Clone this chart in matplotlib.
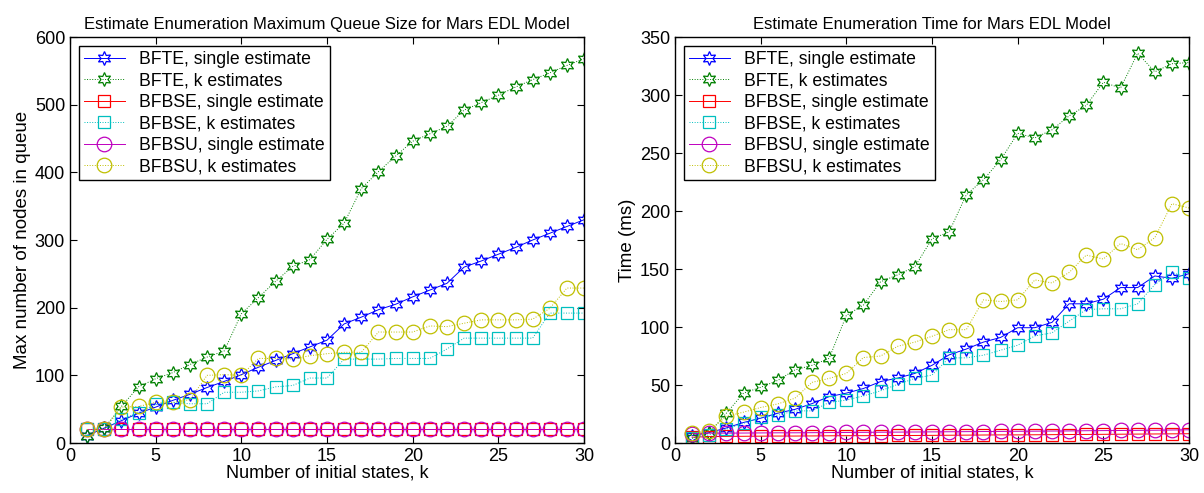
import numpy as np
import matplotlib
matplotlib.use("Agg")
import matplotlib.pyplot as plt

plt.rcParams["font.family"] = ["Liberation Sans", "DejaVu Sans"]

# Number of initial states
k = list(range(1, 31))

# Maximum queue size (nodes)
queue_bfte_single = [11, 22, 33, 44, 53, 63, 72, 82, 91, 101, 112, 122, 132, 142, 152,
                     176, 186, 197, 205, 216, 226, 236, 260, 269, 279, 289, 300, 310, 320, 330]
queue_bfte_k = [11, 22, 54, 83, 95, 104, 116, 127, 136, 191, 215, 239, 261, 271, 301,
                325, 376, 401, 424, 446, 457, 468, 492, 503, 514, 526, 537, 547, 558, 568]
queue_bfbse_single = [20] * 30
queue_bfbse_k = [20, 20, 35, 45, 57, 60, 58, 58, 75, 75, 77, 83, 85, 96, 96,
                 124, 124, 124, 125, 125, 125, 139, 155, 155, 155, 155, 155, 192, 192, 192]
queue_bfbsu_single = [20] * 30
queue_bfbsu_k = [20, 20, 53, 54, 60, 60, 64, 100, 101, 100, 125, 125, 124, 129, 132,
                 134, 134, 164, 164, 164, 173, 172, 177, 182, 182, 182, 183, 199, 229, 229]

# Enumeration time (ms)
time_bfte_single = [6.3, 9, 13, 17.7, 21.4, 25.7, 29, 34, 40, 43, 47, 53, 56, 60, 67,
                    76, 81, 87, 91, 99.4, 99.4, 104, 120, 120, 124, 134, 134, 144, 142, 146]
time_bfte_k = [4, 8.6, 25.7, 43, 48, 54, 63, 67, 73, 110, 119, 139, 145, 152, 176,
               182, 214, 227, 244, 267, 263, 270, 282, 291, 311, 306, 336, 320, 327, 328]
time_bfbse_single = [5.0, 5.5, 5.7, 5.8, 5.9, 6.0, 6.0, 6.1, 6.2, 6.3, 6.3, 6.4, 6.5, 6.5, 6.6,
                     6.7, 6.8, 6.9, 7.0, 7.0, 7.1, 7.2, 7.3, 7.4, 7.5, 7.6, 7.7, 7.8, 7.9, 8.0]
time_bfbse_k = [4.3, 7, 12, 17, 22, 24, 27.7, 27.7, 35, 37, 40.6, 45, 50.6, 55.7, 58.6,
                73.4, 73.4, 75.7, 80, 84.3, 92.3, 95, 105, 115, 115.7, 115.7, 120, 136.6, 147, 142.3]
time_bfbsu_single = [8.0, 8.5, 8.5, 8.6, 8.7, 8.8, 8.8, 8.9, 9.0, 9.1, 9.2, 9.3, 9.4, 9.5, 9.6,
                     9.7, 9.8, 9.9, 10.0, 10.1, 10.2, 10.3, 10.4, 10.6, 10.7, 10.8, 10.9, 11.0, 11.2, 11.4]
time_bfbsu_k = [8.6, 10.6, 23, 26.6, 30.6, 33.7, 38.6, 52.3, 55.7, 60, 73.7, 75, 83.4, 87, 92,
                97.7, 97.7, 123.4, 122, 123.4, 140.6, 138, 147, 162, 158.6, 172, 166.6, 177, 206.3, 202.6]

labels = [
    "BFTE, single estimate",
    "BFTE, k estimates",
    "BFBSE, single estimate",
    "BFBSE, k estimates",
    "BFBSU, single estimate",
    "BFBSU, k estimates",
]

# classic MATLAB color order
colors = [(0, 0, 1), (0, 0.5, 0), (1, 0, 0), (0, 0.75, 0.75), (0.75, 0, 0.75), (0.75, 0.75, 0)]
hexagram = (6, 1, 0)
markers = [hexagram, hexagram, "s", "s", "o", "o"]
marker_sizes = [10, 10, 8, 8, 10.5, 10.5]
linestyles = ["-", ":", "-", ":", "-", ":"]


def style_axes(ax, ymax, ystep):
    ax.set_xlim(0, 30)
    ax.set_ylim(0, ymax)
    ax.set_xticks(np.arange(0, 31, 5))
    ax.set_yticks(np.arange(0, ymax + 1, ystep))
    ax.tick_params(direction="in", top=True, right=True, length=5, width=0.8, labelsize=13)
    for spine in ax.spines.values():
        spine.set_linewidth(1.0)
    ax.set_xlabel("Number of initial states, k", fontsize=13, labelpad=0)


def plot_series(ax, series):
    for y, lab, c, m, ms, ls in zip(series, labels, colors, markers, marker_sizes, linestyles):
        ax.plot(k, y, linestyle=ls, marker=m, markersize=ms, color=c,
                markerfacecolor="none", markeredgewidth=0.9, linewidth=0.7, label=lab)
    leg = ax.legend(loc="upper left", fontsize=12.7, fancybox=False, framealpha=1,
                    edgecolor="black", borderaxespad=0.5, handlelength=2.3,
                    labelspacing=0.25, borderpad=0.3, handletextpad=0.8)
    leg.get_frame().set_linewidth(1.0)


def main():
    fig = plt.figure(figsize=(12.04, 4.93), dpi=100)
    ax1 = fig.add_axes([0.0581, 0.1014, 0.427, 0.8235])
    ax2 = fig.add_axes([0.5606, 0.1014, 0.427, 0.8235])

    plot_series(ax1, [queue_bfte_single, queue_bfte_k, queue_bfbse_single,
                      queue_bfbse_k, queue_bfbsu_single, queue_bfbsu_k])
    style_axes(ax1, 600, 100)
    ax1.set_ylabel("Max number of nodes in queue", fontsize=13.5, labelpad=3)
    ax1.set_title("Estimate Enumeration Maximum Queue Size for Mars EDL Model", fontsize=12, pad=6)

    plot_series(ax2, [time_bfte_single, time_bfte_k, time_bfbse_single,
                      time_bfbse_k, time_bfbsu_single, time_bfbsu_k])
    style_axes(ax2, 350, 50)
    ax2.set_ylabel("Time (ms)", fontsize=13.5, labelpad=3)
    ax2.set_title("Estimate Enumeration Time for Mars EDL Model", fontsize=12, pad=6)

    fig.savefig("out.png", dpi=100)


if __name__ == "__main__":
    main()
